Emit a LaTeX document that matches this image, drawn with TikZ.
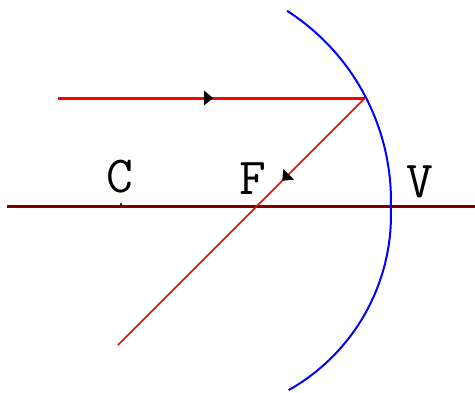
\documentclass[tikz,border=0pt]{standalone}
\usepackage{fontspec}
\usetikzlibrary{arrows.meta,decorations.markings}
\definecolor{axiscol}{RGB}{128,0,0}
\begin{document}
\begin{tikzpicture}[x=1pt,y=-1pt,
  axisline/.style={draw=axiscol,line width=3pt},
  mirrorline/.style={draw=blue,line width=2pt},
  incray/.style={draw=red,line width=3pt},
  refray/.style={draw=red,line width=1.5pt},
  raylabel/.style={font=\ttfamily\fontsize{52}{52}\selectfont,inner sep=0pt,text=black}]
\useasboundingbox (0,0) rectangle (475,392);
\coordinate (axL) at (7,206);
\coordinate (axR) at (475,206);
\coordinate (src) at (58,98);
\coordinate (hit) at (365,98);
\coordinate (rend) at (118,345);
\draw[axisline] (axL) -- (axR);
\draw[mirrorline] plot[domain=-57.3:0,samples=40] ({165+226*cos(\x)},{201+226*sin(\x)})
  -- plot[domain=-1.5:60.6,samples=40] ({190+201*cos(\x)},{215+201*sin(\x)});
\draw[incray,postaction={decorate,decoration={markings,
  mark=at position 155pt with {\fill[black] (-9pt,-7.5pt) -- (0,0) -- (-9pt,7.5pt) -- cycle;}}}]
  (src) -- (hit);
\draw[refray,postaction={decorate,decoration={markings,
  mark=at position 117pt with {\fill[black] (-9pt,-7.5pt) -- (0,0) -- (-9pt,7.5pt) -- cycle;}}}]
  (hit) -- (rend);
\node[circle,fill=black,inner sep=0pt,minimum size=2.5pt] (cdot) at (121,204) {};
\node[raylabel] (C) at (120,177) {C};
\node[raylabel] (F) at (253,179) {F};
\node[raylabel] (V) at (420,182) {V};
\end{tikzpicture}
\end{document}
